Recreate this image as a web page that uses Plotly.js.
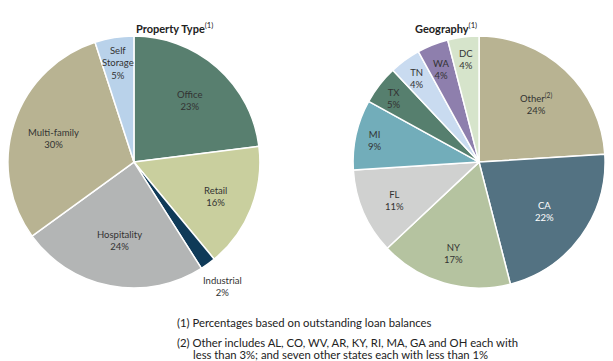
<!DOCTYPE html>
<html><head><meta charset="utf-8">
<script src="https://cdn.plot.ly/plotly-3.0.1.min.js"></script>
<style>html,body{margin:0;padding:0;background:#fff}#chart{width:613px;height:361px}</style>
</head><body><div id="chart"></div>
<script>
// ---- data ----
const propLabels = ["Office", "Retail", "Industrial", "Hospitality", "Multi-family", "Self<br>Storage"];
const propValues = [23, 16, 2, 24, 30, 5];
const geoLabels = ["Other<sup>(2)</sup>", "CA", "NY", "FL", "MI", "TX", "TN", "WA", "DC"];
const geoValues = [24, 22, 17, 11, 9, 5, 4, 4, 4];

// ---- style ----
const propColors = ["#587f6f", "#c9cf9e", "#0f3a58", "#b3b5b5", "#b8b392", "#b9d2ea"];
const geoColors = ["#b8b392", "#537282", "#b5c3a0", "#d0d1d0", "#72adba", "#567f6e", "#c9dbf0", "#8e7fad", "#d6e4cb"];
const propLabelRadius = [0.67, 0.70, 1.2, 0.62, 0.67, 0.81];
const geoLabelRadius = [0.66, 0.64, 0.74, 0.73, 0.85, 0.85, 0.84, 0.81, 0.84];
const geoTextColors = ["#333", "#ffffff", "#333", "#333", "#333", "#333", "#333", "#333", "#333"];

const W = 613, H = 361;
const font = "Lato, 'Open Sans', sans-serif";
const txt = "#333333";
const dom1 = {x: [0.013, 0.424], y: [0.202, 0.900]};
const dom2 = {x: [0.576, 0.987], y: [0.202, 0.900]};

function pieTrace(labels, values, colors, dom) {
  return {
    type: "pie", sort: false, direction: "clockwise", rotation: 0,
    labels: labels, values: values, textinfo: "none", textposition: "none", hoverinfo: "skip",
    marker: {colors: colors, line: {color: "#ffffff", width: 1.5}},
    showlegend: false, domain: dom
  };
}

function labelAnnots(labels, values, dom, radii, colors) {
  const x0 = dom.x[0] * W, x1 = dom.x[1] * W;
  const y0 = (1 - dom.y[1]) * H, y1 = (1 - dom.y[0]) * H;
  const cx = (x0 + x1) / 2, cy = (y0 + y1) / 2;
  const r = Math.min(x1 - x0, y1 - y0) / 2;
  const total = values.reduce((a, b) => a + b, 0);
  let cum = 0;
  return labels.map((lab, i) => {
    const mid = (cum + values[i] / 2) / total * 2 * Math.PI;
    cum += values[i];
    const px = cx + radii[i] * r * Math.sin(mid);
    const py = cy - radii[i] * r * Math.cos(mid);
    return {
      text: lab + "<br>" + values[i] + "%",
      x: px / W, y: 1 - py / H, xref: "paper", yref: "paper",
      xanchor: "center", yanchor: "middle", showarrow: false, align: "center", yshift: -2,
      font: {family: font, size: 9.5, color: colors ? colors[i] : txt}
    };
  });
}

const fn = {family: font, size: 11.3, color: "#222"};
const annots = [
  {text: "<b>Property Type</b><sup>(1)</sup>", x: 0.219, y: 1 - 18 / H, xref: "paper", yref: "paper", showarrow: false, font: {size: 11, color: "#222"}},
  {text: "<b>Geography</b><sup>(1)</sup>", x: 0.781, y: 1 - 18 / H, xref: "paper", yref: "paper", showarrow: false, font: {size: 11, color: "#222"}},
  {text: "(1) Percentages based on outstanding loan balances", x: 175 / W, y: 1 - 322 / H, xref: "paper", yref: "paper", xanchor: "left", yanchor: "middle", showarrow: false, align: "left", font: fn},
  {text: "(2) Other includes AL, CO, WV, AR, KY, RI, MA, GA and OH each with", x: 175 / W, y: 1 - 342 / H, xref: "paper", yref: "paper", xanchor: "left", yanchor: "middle", showarrow: false, align: "left", font: fn},
  {text: "less than 3%; and seven other states each with less than 1%", x: 191 / W, y: 1 - 354 / H, xref: "paper", yref: "paper", xanchor: "left", yanchor: "middle", showarrow: false, align: "left", font: fn}
].concat(labelAnnots(propLabels, propValues, dom1, propLabelRadius))
 .concat(labelAnnots(geoLabels, geoValues, dom2, geoLabelRadius, geoTextColors));

const layout = {
  width: W, height: H,
  margin: {l: 0, r: 0, t: 0, b: 0},
  paper_bgcolor: "#ffffff",
  font: {family: font, color: txt},
  annotations: annots
};

Plotly.newPlot("chart", [pieTrace(propLabels, propValues, propColors, dom1), pieTrace(geoLabels, geoValues, geoColors, dom2)], layout, {displayModeBar: false, staticPlot: true});
</script></body></html>
